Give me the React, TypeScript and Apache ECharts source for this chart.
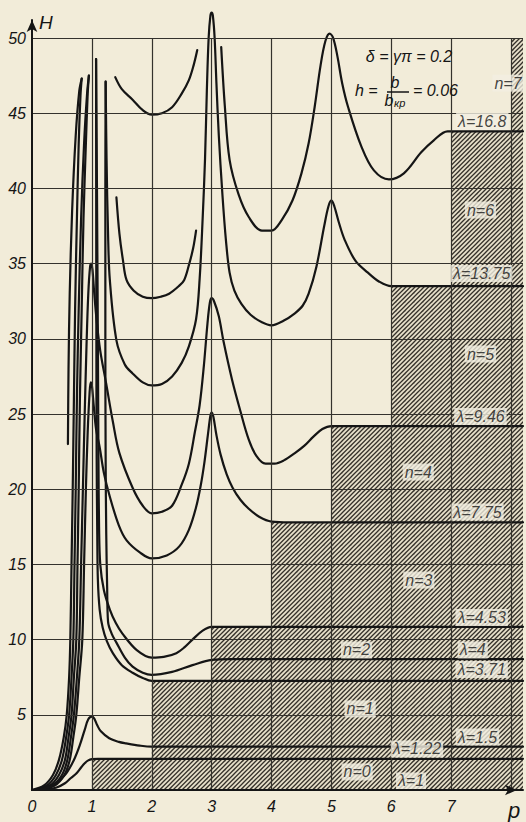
import React, { useEffect, useRef } from 'react';
import * as echarts from 'echarts';

type P = [number, number];

// ---------- data ----------
const xTickLabels = ['0', '1', '2', '3', '4', '5', '6', '7'];
const yTickValues = [5, 10, 15, 20, 25, 30, 35, 40, 45, 50];

// shaded (hatched) staircase: from p = stepStart[i] the zone is shaded up to H = stepTop[i]
const stepStart = [1, 2, 3, 4, 5, 6, 7, 8];
const stepTop = [2.07, 7.25, 10.85, 17.8, 24.2, 33.5, 43.8, 50];
const pEnd = 8.2;

const lam1: P[] = [[0, 0], [0.2, 0.05], [0.4, 0.15], [0.55, 0.45], [0.65, 0.8], [0.74, 1.1], [0.82, 1.5], [0.88, 1.78], [0.94, 1.97], [1.0, 2.05], [1.1, 2.07], [1.4, 2.07], [8.2, 2.07]];
const lam122: P[] = [[0, 0], [0.2, 0.1], [0.4, 0.45], [0.57, 1.1], [0.7, 2.0], [0.8, 3.0], [0.88, 4.0], [0.94, 4.7], [1.0, 4.88], [1.04, 4.75], [1.09, 4.3], [1.15, 3.9], [1.29, 3.44], [1.45, 3.2], [1.57, 3.1], [1.8, 2.95], [2.0, 2.88], [2.3, 2.88], [8.2, 2.88]];
const riseA1: P[] = [[0.6, 23], [0.61, 28], [0.63, 33], [0.67, 38.5], [0.73, 43.5], [0.79, 46.5], [0.83, 47.3]];
const riseA2: P[] = [[0, 0], [0.2, 0.3], [0.35, 1.0], [0.45, 2], [0.53, 3.5], [0.58, 5], [0.62, 7.5], [0.64, 10], [0.66, 15], [0.68, 20], [0.7, 26], [0.72, 32], [0.75, 38], [0.78, 43], [0.81, 46.2], [0.83, 47.3]];
const riseB1: P[] = [[0.02, 0], [0.25, 0.3], [0.4, 1.0], [0.5, 2], [0.57, 3.5], [0.62, 5], [0.66, 7.5], [0.69, 10], [0.71, 15], [0.73, 20], [0.75, 26], [0.78, 32], [0.82, 38], [0.87, 43], [0.92, 46.3], [0.95, 47.5]];
const riseB2: P[] = [[0.04, 0], [0.3, 0.3], [0.45, 1.0], [0.55, 2], [0.61, 3.5], [0.66, 5], [0.7, 7.5], [0.74, 10], [0.76, 15], [0.78, 20], [0.8, 26], [0.83, 32], [0.86, 38], [0.9, 43], [0.93, 46.3], [0.95, 47.5]];
const lam371: P[] = [[1.07, 48.6], [1.072, 40], [1.075, 30], [1.08, 22], [1.09, 17], [1.1, 14], [1.13, 12], [1.18, 10.8], [1.25, 9.9], [1.35, 9.1], [1.5, 8.3], [1.68, 7.8], [1.85, 7.45], [2.0, 7.25], [2.3, 7.25], [8.2, 7.25]];
const lam4: P[] = [[1.23, 47.1], [1.225, 40], [1.225, 30], [1.23, 22], [1.24, 17], [1.255, 13.5], [1.27, 11.2], [1.33, 10.4], [1.41, 9.8], [1.55, 8.8], [1.68, 8.2], [1.85, 7.8], [2.0, 7.65], [2.34, 7.85], [2.68, 8.3], [3.0, 8.65], [3.34, 8.7], [3.6, 8.7], [8.2, 8.7]];
const lam453: P[] = [[1.07, 48.6], [1.085, 40], [1.1, 30], [1.11, 22], [1.12, 17.5], [1.14, 15], [1.2, 13.3], [1.3, 12.0], [1.4, 11.1], [1.51, 10.4], [1.75, 9.3], [2.0, 8.8], [2.2, 8.85], [2.41, 9.1], [2.55, 9.5], [2.68, 10.0], [2.85, 10.6], [3.0, 10.85], [3.3, 10.85], [8.2, 10.85]];
const lam775: P[] = [[0.08, 0], [0.38, 0.3], [0.54, 1.0], [0.63, 2], [0.69, 3.5], [0.74, 5], [0.79, 7.5], [0.84, 10], [0.87, 15], [0.9, 20], [0.93, 23.8], [0.96, 26.3], [0.98, 27.1], [1.0, 26.9], [1.03, 25.6], [1.07, 24.0], [1.13, 22.8], [1.2, 21.1], [1.3, 19.5], [1.45, 17.6], [1.58, 16.6], [1.8, 15.8], [2.0, 15.4], [2.25, 15.6], [2.46, 16.2], [2.62, 17.3], [2.74, 18.8], [2.82, 20.3], [2.88, 21.8], [2.94, 23.7], [2.98, 24.9], [3.0, 25.1], [3.03, 24.8], [3.08, 23.6], [3.15, 22.3], [3.25, 21.0], [3.35, 20.1], [3.48, 19.3], [3.62, 18.7], [3.8, 18.15], [4.0, 17.85], [4.3, 17.8], [8.2, 17.8]];
const lam946: P[] = [[0.06, 0], [0.34, 0.3], [0.5, 1.0], [0.59, 2], [0.65, 3.5], [0.7, 5], [0.75, 7.5], [0.79, 10], [0.82, 15], [0.85, 20], [0.88, 25], [0.91, 29.5], [0.94, 33], [0.97, 34.8], [0.99, 35], [1.01, 34.6], [1.04, 33], [1.08, 31.2], [1.14, 29.2], [1.24, 27.0], [1.35, 24.5], [1.46, 22.4], [1.68, 20.1], [1.85, 18.9], [2.0, 18.4], [2.17, 18.5], [2.34, 18.9], [2.5, 20.3], [2.62, 21.7], [2.72, 23.8], [2.8, 25.6], [2.87, 28.2], [2.93, 31], [2.97, 32.4], [3.0, 32.7], [3.04, 32.5], [3.12, 31.5], [3.2, 29.8], [3.34, 27.3], [3.48, 25.2], [3.62, 23.3], [3.75, 22.2], [3.9, 21.7], [4.05, 21.7], [4.2, 21.9], [4.39, 22.4], [4.55, 22.9], [4.7, 23.5], [4.85, 24.0], [5.0, 24.2], [5.3, 24.2], [8.2, 24.2]];
const lam1375: P[] = [[1.23, 47.1], [1.245, 42], [1.27, 37], [1.3, 33.9], [1.41, 29.9], [1.55, 28.3], [1.68, 27.7], [1.85, 27.1], [2.0, 26.9], [2.17, 27.0], [2.34, 27.5], [2.5, 28.4], [2.62, 29.5], [2.74, 31.3], [2.8, 34], [2.85, 38], [2.89, 42], [2.92, 46.5], [2.95, 50], [2.98, 51.5], [3.0, 51.7], [3.02, 51.5], [3.05, 50], [3.08, 47], [3.12, 43.5], [3.18, 39.6], [3.24, 36.5], [3.3, 34.4], [3.38, 33.2], [3.5, 32.3], [3.65, 31.6], [3.84, 31.1], [4.0, 30.9], [4.2, 31.2], [4.39, 31.7], [4.52, 32.2], [4.62, 33.0], [4.75, 34.8], [4.88, 37.5], [4.95, 38.8], [5.0, 39.2], [5.05, 38.8], [5.12, 37.8], [5.22, 36.6], [5.4, 35.2], [5.61, 34.4], [5.8, 33.8], [6.0, 33.5], [6.3, 33.5], [8.2, 33.5]];
const lam168: P[] = [[3.16, 49.4], [3.22, 45.5], [3.3, 41.9], [3.45, 39.6], [3.62, 38.1], [3.84, 37.2], [4.0, 37.2], [4.17, 37.9], [4.35, 39.2], [4.5, 41], [4.62, 43], [4.72, 45.4], [4.82, 48.2], [4.9, 49.8], [4.97, 50.3], [5.03, 50.0], [5.1, 48.8], [5.18, 47], [5.28, 45.4], [5.5, 42.8], [5.71, 41.2], [5.96, 40.6], [6.21, 41.0], [6.5, 42.4], [6.71, 43.2], [6.94, 43.8], [7.2, 43.8], [8.2, 43.8]];
const upperA: P[] = [[1.39, 47.4], [1.5, 46.6], [1.68, 45.9], [1.85, 45.2], [2.0, 44.9], [2.17, 45.0], [2.34, 45.4], [2.5, 46.3], [2.62, 47.2], [2.7, 48.2], [2.76, 49.2]];
const upperB: P[] = [[1.41, 39.4], [1.46, 37.0], [1.52, 35.2], [1.58, 33.9], [1.7, 33.2], [1.85, 32.8], [2.0, 32.7], [2.15, 32.8], [2.29, 33.0], [2.45, 33.5], [2.54, 33.9], [2.62, 34.9], [2.69, 36.0], [2.74, 37.2]];

const curveList: P[][] = [lam1, lam122, riseA1, riseA2, riseB1, riseB2, lam371, lam4, lam453, lam775, lam946, lam1375, lam168, upperA, upperB];

const zoneNames = ['n=0', 'n=1', 'n=2', 'n=3', 'n=4', 'n=5', 'n=6', 'n=7'];
const lambdaNames = ['λ=1', 'λ=1.22', 'λ=1.5', 'λ=3.71', 'λ=4', 'λ=4.53', 'λ=7.75', 'λ=9.46', 'λ=13.75', 'λ=16.8'];

// ---------- layout (label anchors in chart coordinates) ----------
const zoneAnchor: P[] = [[5.43, 1.2], [5.48, 5.39], [5.42, 9.31], [6.46, 13.96], [6.45, 21.14], [7.49, 28.99], [7.49, 38.56], [7.69, 47.0]];
const lambdaAnchor: P[] = [[6.33, 0.6], [6.43, 2.73], [7.44, 3.52], [7.51, 8.01], [7.36, 9.31], [7.51, 11.47], [7.44, 18.48], [7.49, 24.83], [7.51, 34.34], [7.52, 44.45]];

const PAPER = '#f2ecd9';
const INK = '#151515';
const FONT = 'Liberation Sans';

export default function App() {
  const ref = useRef<HTMLDivElement>(null);

  useEffect(() => {
    if (!ref.current) return;
    const chart = echarts.init(ref.current, undefined, { renderer: 'svg' });

    const c = document.createElement('canvas');
    c.width = 9;
    c.height = 9;
    const g = c.getContext('2d');
    if (g) {
      g.strokeStyle = 'rgba(38,34,28,0.92)';
      g.lineWidth = 1.3;
      for (const o of [-9, -4.5, 0, 4.5, 9]) {
        g.beginPath();
        g.moveTo(o - 2, 11);
        g.lineTo(o + 11, -2);
        g.stroke();
      }
    }
    const hatch: any = { image: c.toDataURL(), repeat: 'repeat', imageWidth: 9, imageHeight: 9 };

    const gridLines: any[] = [];
    for (let x = 1; x <= 8; x++) gridLines.push([{ coord: [x, 0] }, { coord: [x, 50] }]);
    for (const h of yTickValues) gridLines.push([{ coord: [0, h] }, { coord: [pEnd, h] }]);

    const labelStyle = {
      show: true,
      position: 'inside',
      fontSize: 16,
      fontStyle: 'italic',
      fontFamily: FONT,
      color: INK,
      backgroundColor: '#f3efe1',
      padding: [1, 2, 0, 2],
    };

    const labelData: any[] = [];
    zoneNames.forEach((t, i) => {
      labelData.push({
        value: zoneAnchor[i],
        name: t,
        label: i === 7 ? { align: 'left' } : {},
      });
    });
    lambdaNames.forEach((t, i) => {
      labelData.push({ value: lambdaAnchor[i], name: t });
    });

    const series: any[] = [
      {
        type: 'custom',
        coordinateSystem: 'cartesian2d',
        z: 1,
        silent: true,
        clip: false,
        data: stepStart.map((s, i) => [s, stepTop[i], i < stepStart.length - 1 ? stepStart[i + 1] : pEnd]),
        encode: { x: [0, 2], y: 1 },
        renderItem: (_p: any, api: any) => {
          const x0 = api.value(0);
          const top = api.value(1);
          const x1 = api.value(2);
          const a = api.coord([x0, top]);
          const b = api.coord([x1, 0]);
          const shape = { x: a[0], y: a[1], width: b[0] - a[0], height: b[1] - a[1] };
          return {
            type: 'group',
            children: [
              { type: 'rect', shape, style: { fill: '#e7e0ca' } },
              { type: 'rect', shape, style: { fill: hatch } },
            ],
          };
        },
      },
      {
        type: 'line',
        z: 2,
        silent: true,
        symbol: 'none',
        data: [[0, 0]],
        lineStyle: { width: 0 },
        markLine: {
          silent: true,
          symbol: 'none',
          animation: false,
          label: { show: false },
          lineStyle: { color: '#34322d', width: 1.2, type: 'solid' },
          emphasis: { disabled: true },
          data: gridLines,
        },
      },
      ...curveList.map((d) => ({
        type: 'line',
        z: 3,
        silent: true,
        symbol: 'none',
        smooth: 0.35,
        clip: false,
        data: d,
        lineStyle: { color: INK, width: 2.2, cap: 'round', join: 'round' },
      })),
      {
        type: 'scatter',
        z: 6,
        silent: true,
        symbolSize: 1,
        itemStyle: { color: 'rgba(0,0,0,0)' },
        label: { ...labelStyle, formatter: (p: any) => p.name },
        data: labelData,
      },
    ];

    const txt = (x: number, y: number, text: string, size: number, align = 'left', extra: any = {}) => ({
      type: 'text',
      x,
      y,
      z: 20,
      style: {
        text,
        fill: INK,
        font: `italic ${size}px "${FONT}"`,
        align,
        verticalAlign: 'middle',
        ...extra,
      },
    });

    chart.setOption({
      animation: false,
      backgroundColor: PAPER,
      grid: { left: 32, right: 0, top: 20, bottom: 32, containLabel: false },
      xAxis: {
        type: 'value',
        min: 0,
        max: pEnd,
        interval: 1,
        z: 10,
        axisLine: {
          show: true,
          onZero: false,
          lineStyle: { color: INK, width: 2 },
          symbol: ['none', 'arrow'],
          symbolSize: [8, 12],
          symbolOffset: [0, -6],
        },
        axisTick: { show: false },
        splitLine: { show: false },
        axisLabel: {
          margin: 8,
          fontSize: 16,
          fontStyle: 'italic',
          fontFamily: FONT,
          color: INK,
          formatter: (v: number) => (v <= 7 && Number.isInteger(v) ? xTickLabels[v] : ''),
        },
      },
      yAxis: {
        type: 'value',
        min: 0,
        max: 51.2,
        interval: 5,
        z: 10,
        axisLine: {
          show: true,
          onZero: false,
          lineStyle: { color: INK, width: 2 },
          symbol: ['none', 'arrow'],
          symbolSize: [8, 12],
        },
        axisTick: { show: false },
        splitLine: { show: false },
        axisLabel: {
          margin: 6,
          fontSize: 16,
          fontStyle: 'italic',
          fontFamily: FONT,
          color: INK,
          formatter: (v: number) => (yTickValues.indexOf(v) >= 0 ? String(v) : ''),
        },
      },
      graphic: [
        txt(39, 22, 'H', 19),
        txt(508, 810, 'p', 22),
        txt(409, 56, 'δ = γπ = 0.2', 16, 'center'),
        txt(355, 90, 'h =', 16),
        txt(395, 82, 'b', 16, 'center'),
        { type: 'line', z: 20, shape: { x1: 387, y1: 92, x2: 409, y2: 92 }, style: { stroke: INK, lineWidth: 1.5 } },
        txt(389, 100, 'b', 16, 'center'),
        txt(394, 103, 'кр', 11),
        txt(413, 90, '= 0.06', 16),
      ],
      series,
    });

    return () => chart.dispose();
  }, []);

  return (
    <div
      ref={ref}
      style={{ position: 'fixed', left: 0, top: 0, width: 526, height: 822, background: PAPER }}
    />
  );
}
